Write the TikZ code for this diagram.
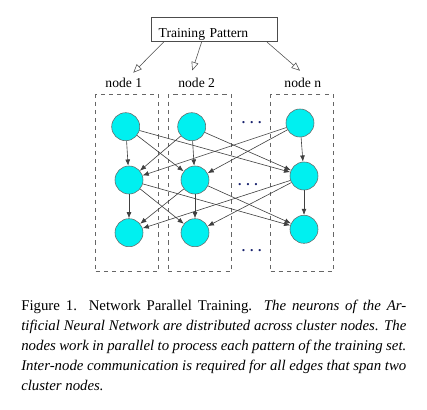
\documentclass[tikz,border=0pt]{standalone}
\usepackage{fontspec}
\setmainfont{Liberation Serif}
\usetikzlibrary{arrows,arrows.meta,calc}
\tikzset{>={Latex[length=4.6pt,width=3.6pt]}}
\definecolor{dotblue}{RGB}{25,35,110}
\definecolor{neuroncyan}{RGB}{0,240,240}
\tikzstyle{neuron}=[circle,draw=black!60,fill=neuroncyan,minimum size=20.6pt,inner sep=0pt]
\tikzstyle{cluster}=[rectangle,draw=black!60,dashed,line width=0.4pt,minimum width=46.3pt,minimum height=130.1pt]
\tikzstyle{link}=[->,draw=black!75,line width=0.45pt]
\tikzstyle{feed}=[-open triangle 45,draw=black!70,line width=0.4pt]
\tikzstyle{dots}=[text=dotblue,font=\bfseries,anchor=base,inner sep=0pt]

\begin{document}
\begin{tikzpicture}[x=0.735pt,y=-0.735pt,inner sep=1mm,font=\fontsize{10}{14.7}\selectfont]
	\useasboundingbox (0,0) rectangle (427,410);
	
	\node[draw=black!70,line width=0.5pt,text width=81.8pt,inner xsep=5.15pt,inner ysep=0pt,
	      text height=14.4pt,text depth=3.2pt,align=left] (tp) at (214.35,29.7) {Training Pattern};
	
	\node[cluster] (c1) at (127.2,183) {};
	\node[cluster] (c2) at (199.9,183) {};
	\node[cluster] (cn) at (302,183) {};
	
	\node[anchor=base] (l1) at (123.8,87.3) {node 1};
	\node[anchor=base] (l2) at (196.7,87.3) {node 2};
	\node[anchor=base] (ln) at (302.8,87.3) {node n};
	
	\coordinate (e1) at (133.3,72.7);
	\coordinate (e2) at (192.3,70.5);
	\coordinate (en) at (300,70.7);
	
	\draw[feed] ($(tp.south west)+(12.3,0)$) -- (e1);
	\draw[feed] ($(tp.south west)+(50.3,0)$) -- (e2);
	\draw[feed] ($(tp.south west)+(115.6,0)$) -- (en);
	
	\node[neuron] (n11) at (125.7,126.7) {};
	\node[neuron] (n12) at (191.7,126.7) {};
	\node[neuron] (n1n) at (300,123) {};
	\node[neuron] (n21) at (129,180) {};
	\node[neuron] (n22) at (195,180) {};
	\node[neuron] (n2n) at (304,176) {};
	\node[neuron] (n31) at (129,232.7) {};
	\node[neuron] (n32) at (195,232.7) {};
	\node[neuron] (n3n) at (304,229.3) {};
	
	\node[dots] (d1) at (251.7,123.3) {.\hspace{3.5pt}.\hspace{3.5pt}.};
	\node[dots] (d2) at (248,186) {.\hspace{3.5pt}.\hspace{3.5pt}.};
	\node[dots] (d3) at (251.7,251.7) {.\hspace{3.5pt}.\hspace{3.5pt}.};
	
	\draw[link] (n11) -- (n21);
	\draw[link] (n11) -- (n22);
	\draw[link] (n11) -- (n2n);
	\draw[link] (n12) -- (n21);
	\draw[link] (n12) -- (n22);
	\draw[link] (n12) -- (n2n);
	\draw[link] (n1n) -- (n21);
	\draw[link] (n1n) -- (n22);
	\draw[link] (n1n) -- (n2n);
	
	\draw[link] (n21) -- (n31);
	\draw[link] (n21) -- (n32);
	\draw[link] (n21) -- (n3n);
	\draw[link] (n22) -- (n31);
	\draw[link] (n22) -- (n32);
	\draw[link] (n22) -- (n3n);
	\draw[link] (n2n) -- (n31);
	\draw[link] (n2n) -- (n32);
	\draw[link] (n2n) -- (n3n);
	
	\node[anchor=north west,inner sep=0pt,text width=283pt,align=justify,
	      font=\fontsize{10.9}{14.7}\selectfont] (caption) at (21,299.5)
	{Figure 1. Network Parallel Training. \textit{The neurons of the Ar-\linebreak
	tificial Neural Network are distributed across cluster nodes. The\linebreak
	nodes work in parallel to process each pattern of the training set.\linebreak
	Inter-node communication is required for all edges that span two\linebreak
	cluster nodes.}};
\end{tikzpicture}
\end{document}
